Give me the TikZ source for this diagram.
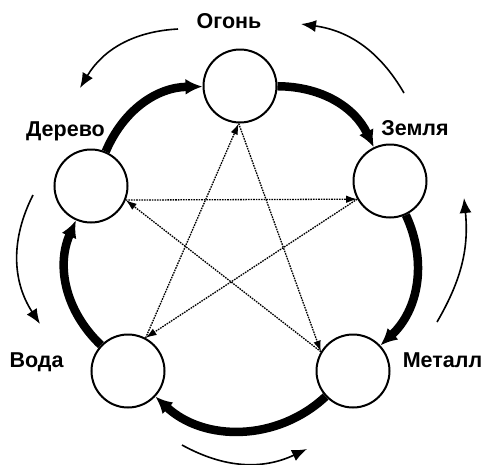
\documentclass[tikz,border=0pt]{standalone}
\usepackage{fontspec}
\setmainfont{Liberation Sans}
\usetikzlibrary{arrows.meta}
\begin{document}
\begin{tikzpicture}[x=1pt,y=1pt,
  elem/.style={circle, draw, line width=2pt, fill=white, minimum size=73pt, inner sep=0pt},
  lab/.style={font=\fontsize{21.5}{25}\selectfont\bfseries, anchor=base, inner sep=0pt},
  gen/.style={line width=8.5pt, -{Latex[length=17pt,width=16pt]}},
  ctrl/.style={line width=1.3pt, dash pattern=on 1.6pt off 1pt, -{Latex[length=11pt,width=7.5pt]}},
  cyc/.style={line width=1.6pt, -{Latex[length=15pt,width=12pt]}}
]
\useasboundingbox (0,0) rectangle (488,-464);
% elements
\node[elem] (F) at (240,-86) {};
\node[elem] (E) at (390,-181) {};
\node[elem] (M) at (353,-371) {};
\node[elem] (W) at (128,-371) {};
\node[elem] (D) at (91,-186) {};
% labels
\node[lab] (lF) at (229,-28) {Огонь};
\node[lab] (lE) at (415,-135) {Земля};
\node[lab] (lM) at (442.5,-367) {Металл};
\node[lab] (lW) at (36.5,-367) {Вода};
\node[lab] (lD) at (65.5,-136) {Дерево};
% generating cycle
\draw[gen] (F) to[bend left=32] (E);
\draw[gen] (E) to[bend left=36] (M);
\draw[gen] (M) to[bend left=43] (W);
\draw[gen] (W) to[bend left=35] (D);
\draw[gen] (D) to[bend left=33] (F);
% controlling star
\draw[ctrl] (D.-22) -- (E.209);
\draw[ctrl] (E.209) -- (W.62);
\draw[ctrl] (W.62) -- (F.268);
\draw[ctrl] (F.268) -- (M.149);
\draw[ctrl] (M.149) -- (D.-22);
% outer arrows
\coordinate (a1s) at (178,-29); \coordinate (a1e) at (80,-88);
\coordinate (a2s) at (404,-93); \coordinate (a2e) at (301,-24);
\coordinate (a3s) at (437,-322); \coordinate (a3e) at (464,-198);
\coordinate (a4s) at (182,-445); \coordinate (a4e) at (307,-449);
\coordinate (a5s) at (33,-195); \coordinate (a5e) at (40,-324);
\draw[cyc] (a1s) to[bend right=28] (a1e);
\draw[cyc] (a2s) to[bend right=26] (a2e);
\draw[cyc] (a3s) to[bend right=18] (a3e);
\draw[cyc] (a4s) to[bend right=27] (a4e);
\draw[cyc] (a5s) to[bend right=30] (a5e);
\end{tikzpicture}
\end{document}
